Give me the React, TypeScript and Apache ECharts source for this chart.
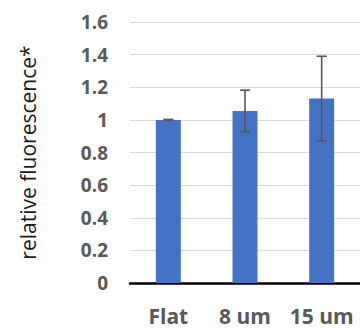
import React, { useEffect, useRef } from "react";
import * as echarts from "echarts";

const categories = ["Flat", "8 um", "15 um"];
const means = [1.0, 1.055, 1.131];
const errors = [0.003, 0.127, 0.259];
const yTicks = { min: 0, max: 1.6, interval: 0.2 };

export default function App() {
  const ref = useRef<HTMLDivElement>(null);
  useEffect(() => {
    if (!ref.current) return;
    const chart = echarts.init(ref.current, null, { renderer: "svg" });
    const errData = means.map((m, i) => [i, m - errors[i], m + errors[i]]);
    chart.setOption({
      animation: false,
      grid: { left: 130, top: 22, width: 235, height: 261, containLabel: false },
      xAxis: {
        type: "category",
        data: categories,
        axisLine: { lineStyle: { color: "#000", width: 2.5 } },
        axisTick: { show: false },
        axisLabel: {
          interval: 0,
          hideOverlap: false,
          color: "#595959",
          fontFamily: "Open Sans",
          fontWeight: "bold",
          fontSize: 21,
          margin: 22,
        },
      },
      yAxis: {
        type: "value",
        min: yTicks.min,
        max: yTicks.max,
        interval: yTicks.interval,
        name: "relative fluorescence*",
        nameLocation: "middle",
        nameGap: 92,
        nameTextStyle: {
          color: "#1a1a1a",
          fontFamily: "Open Sans",
          fontSize: 21,
        },
        axisLine: { show: false },
        axisTick: { show: false },
        splitLine: { lineStyle: { color: "#d9d9d9", width: 1 } },
        axisLabel: {
          color: "#595959",
          fontFamily: "Open Sans",
          fontWeight: "bold",
          fontSize: 19,
          margin: 22,
        },
      },
      series: [
        {
          type: "bar",
          data: means,
          barWidth: 25,
          itemStyle: { color: "#4472C4" },
        },
        {
          type: "custom",
          data: errData,
          z: 10,
          renderItem: (params: any, api: any) => {
            const x = api.value(0);
            const lo = api.coord([x, api.value(1)]);
            const hi = api.coord([x, api.value(2)]);
            const hw = 5;
            const style = { stroke: "#595959", lineWidth: 1.6 };
            return {
              type: "group",
              children: [
                { type: "line", shape: { x1: hi[0], y1: hi[1], x2: lo[0], y2: lo[1] }, style },
                { type: "line", shape: { x1: hi[0] - hw, y1: hi[1], x2: hi[0] + hw, y2: hi[1] }, style },
                { type: "line", shape: { x1: lo[0] - hw, y1: lo[1], x2: lo[0] + hw, y2: lo[1] }, style },
              ],
            };
          },
        },
      ],
    });
    return () => chart.dispose();
  }, []);
  return (
    <div
      ref={ref}
      style={{ position: "absolute", left: 0, top: 0, width: 360, height: 329, background: "#fff" }}
    />
  );
}
